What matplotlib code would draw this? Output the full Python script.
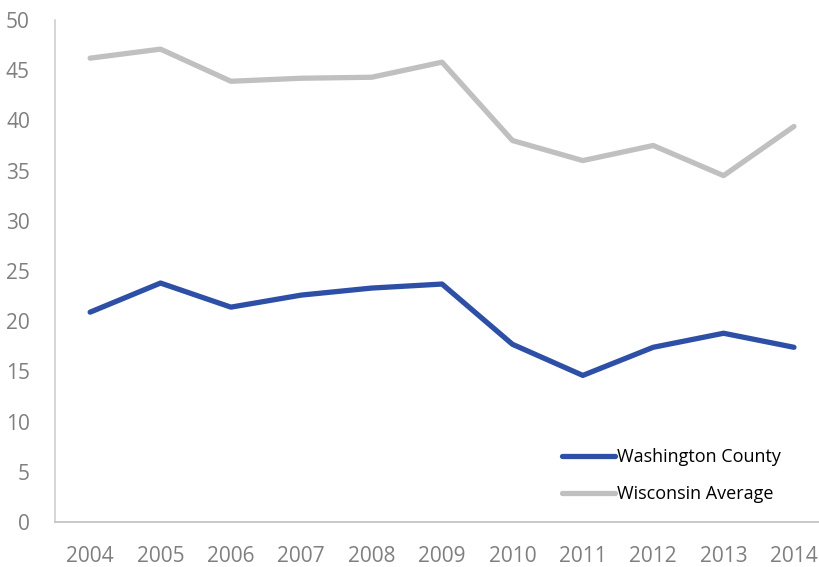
import matplotlib.pyplot as plt

# values
years = ['2004', '2005', '2006', '2007', '2008', '2009', '2010', '2011', '2012', '2013', '2014']
washington = [20.9, 23.8, 21.4, 22.6, 23.3, 23.7, 17.7, 14.6, 17.4, 18.8, 17.4]
wisconsin = [46.2, 47.1, 43.9, 44.2, 44.3, 45.8, 38.0, 36.0, 37.5, 34.5, 39.4]

plt.rcParams['font.family'] = ['Liberation Sans Narrow', 'Open Sans', 'DejaVu Sans']

fig = plt.figure(figsize=(8.2, 5.67), dpi=100)
ax = fig.add_axes([0.067, 0.0794, 0.933, 0.8853])

x = list(range(len(years)))
ax.plot(x, washington, color='#2e4fa6', linewidth=3.8, solid_capstyle='round',
        solid_joinstyle='round', label='Washington County')
ax.plot(x, wisconsin, color='#c0c0c0', linewidth=3.8, solid_capstyle='round',
        solid_joinstyle='round', label='Wisconsin Average')

ax.set_ylim(0, 50)
ax.set_yticks(range(0, 51, 5))
ax.set_xlim(-0.5, 10.37)
ax.set_xticks(x)
ax.set_xticklabels(years)

for s in ['top', 'right']:
    ax.spines[s].set_visible(False)
ax.spines['left'].set_color('#d0d0d0')
ax.spines['bottom'].set_color('#bfbfbf')
ax.spines['left'].set_linewidth(1.2)
ax.spines['bottom'].set_linewidth(1.2)

ax.tick_params(axis='both', length=0, labelsize=15, colors='#7f7f7f')
ax.tick_params(axis='x', pad=17)
ax.tick_params(axis='y', pad=18)

leg = ax.legend(loc='upper left', bbox_to_anchor=(0.642, 0.179), frameon=False,
                fontsize=13, handlelength=2.9, handletextpad=0.15, labelspacing=1.05)
for t in leg.get_texts():
    t.set_color('#000000')

plt.savefig('out.png', dpi=100)
